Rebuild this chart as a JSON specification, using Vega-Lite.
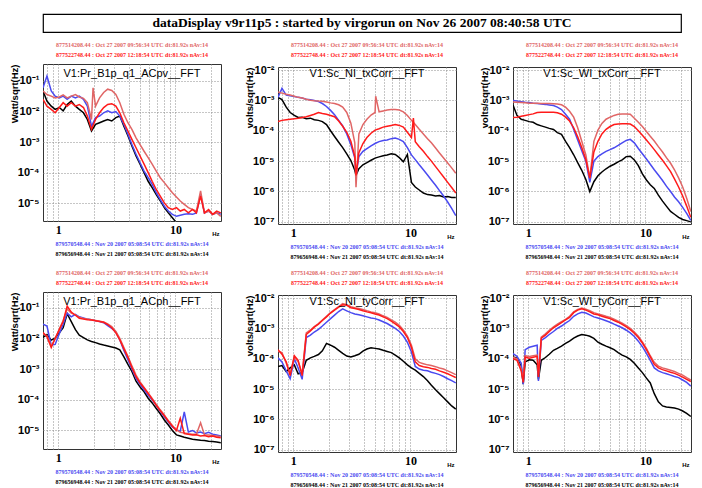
{
  "$schema": "https://vega.github.io/schema/vega-lite/v6.json",
  "background": "white",
  "padding": {"left": 8, "top": 13, "right": 4, "bottom": 0},
  "config": {
    "font": "Liberation Sans",
    "view": {"stroke": "#333333", "strokeWidth": 1},
    "axis": {"grid": true, "gridDash": [1, 2], "gridColor": "#8c8c8c", "ticks": false, "domain": false, "labelColor": "#000000", "titleColor": "#000000", "labelFontWeight": "bold", "labelOverlap": false, "labelFlush": false},
    "title": {"color": "#000000"}
  },
  "datasets": {
    "hdr": [
      {"i": 0, "s": "q", "t": "877514208.44 : Oct 27 2007 09:56:34 UTC dt:81.92s nAv:14"},
      {"i": 1, "s": "r", "t": "877522748.44 : Oct 27 2007 12:18:54 UTC dt:81.92s nAv:14"}
    ],
    "ftr": [
      {"i": 0, "s": "b", "t": "879570548.44 : Nov 20 2007 05:08:54 UTC dt:81.92s nAv:14"},
      {"i": 1, "s": "k", "t": "879656948.44 : Nov 21 2007 05:08:54 UTC dt:81.92s nAv:14"}
    ],
    "A": [
      {"s":"k","f":0.74,"v":4.7e-2},{"s":"k","f":0.8,"v":2.2e-2},{"s":"k","f":0.87,"v":1.5e-2},{"s":"k","f":0.94,"v":1.17e-2},{"s":"k","f":1.02,"v":1.35e-2},{"s":"k","f":1.1,"v":1.05e-2},{"s":"k","f":1.19,"v":1.7e-2},{"s":"k","f":1.29,"v":2.2e-2},{"s":"k","f":1.4,"v":1.5e-2},{"s":"k","f":1.51,"v":1.17e-2},{"s":"k","f":1.64,"v":9.1e-3},{"s":"k","f":1.77,"v":5.5e-3},{"s":"k","f":1.92,"v":2.3e-3},{"s":"k","f":2.08,"v":3.8e-3},{"s":"k","f":2.25,"v":4.3e-3},{"s":"k","f":2.44,"v":4.9e-3},{"s":"k","f":2.64,"v":5.5e-3},{"s":"k","f":2.86,"v":4.9e-3},{"s":"k","f":3.1,"v":6.3e-3},{"s":"k","f":3.35,"v":7.1e-3},{"s":"k","f":3.63,"v":3.3e-3},{"s":"k","f":3.93,"v":1.6e-3},{"s":"k","f":4.25,"v":7.4e-4},{"s":"k","f":4.61,"v":3.5e-4},{"s":"k","f":4.99,"v":1.9e-4},{"s":"k","f":5.4,"v":1e-4},{"s":"k","f":5.85,"v":5.2e-5},{"s":"k","f":6.33,"v":3.2e-5},{"s":"k","f":6.86,"v":1.9e-5},{"s":"k","f":7.42,"v":1.2e-5},{"s":"k","f":8.04,"v":7.1e-6},{"s":"k","f":8.7,"v":4.8e-6},{"s":"k","f":9.42,"v":3.3e-6},{"s":"k","f":10.2,"v":2.3e-6},{"s":"k","f":11,"v":1.8e-6},
      {"s":"b","f":0.74,"v":6.0e-2},{"s":"b","f":0.8,"v":1.45e-1},{"s":"b","f":0.87,"v":4.7e-2},{"s":"b","f":0.94,"v":3.2e-2},{"s":"b","f":1.02,"v":2.8e-2},{"s":"b","f":1.1,"v":3.2e-2},{"s":"b","f":1.19,"v":2.5e-2},{"s":"b","f":1.29,"v":3.2e-2},{"s":"b","f":1.4,"v":2.8e-2},{"s":"b","f":1.51,"v":3.2e-2},{"s":"b","f":1.64,"v":2.5e-2},{"s":"b","f":1.77,"v":1.5e-2},{"s":"b","f":1.92,"v":3.3e-3},{"s":"b","f":2.08,"v":6.3e-3},{"s":"b","f":2.25,"v":7.1e-3},{"s":"b","f":2.44,"v":9.1e-3},{"s":"b","f":2.64,"v":1.05e-2},{"s":"b","f":2.86,"v":9.1e-3},{"s":"b","f":3.1,"v":1.0e-2},{"s":"b","f":3.35,"v":7.1e-3},{"s":"b","f":3.63,"v":3.8e-3},{"s":"b","f":3.93,"v":1.8e-3},{"s":"b","f":4.25,"v":8.3e-4},{"s":"b","f":4.61,"v":4.0e-4},{"s":"b","f":4.99,"v":2.1e-4},{"s":"b","f":5.4,"v":1.12e-4},{"s":"b","f":5.85,"v":6.8e-5},{"s":"b","f":6.33,"v":4.1e-5},{"s":"b","f":6.86,"v":2.2e-5},{"s":"b","f":7.42,"v":1.3e-5},{"s":"b","f":8.04,"v":7.9e-6},{"s":"b","f":8.7,"v":5.5e-6},{"s":"b","f":9.42,"v":4.3e-6},{"s":"b","f":10.2,"v":3.7e-6},{"s":"b","f":11,"v":4.0e-6},{"s":"b","f":11.9,"v":4.3e-6},{"s":"b","f":12.9,"v":4.5e-6},{"s":"b","f":14,"v":4.3e-6},{"s":"b","f":15.1,"v":4.8e-6},{"s":"b","f":16.4,"v":1.9e-5},{"s":"b","f":17.7,"v":4.8e-6},{"s":"b","f":19.2,"v":5.5e-6},{"s":"b","f":20.8,"v":4.3e-6},{"s":"b","f":22.5,"v":4.8e-6},{"s":"b","f":24.4,"v":4.3e-6},
      {"s":"q","f":0.74,"v":4.7e-2},{"s":"q","f":0.8,"v":3.6e-2},{"s":"q","f":0.87,"v":3.2e-2},{"s":"q","f":0.94,"v":2.8e-2},{"s":"q","f":1.02,"v":3.0e-2},{"s":"q","f":1.1,"v":3.5e-2},{"s":"q","f":1.19,"v":2.8e-2},{"s":"q","f":1.29,"v":3.2e-2},{"s":"q","f":1.4,"v":3.6e-2},{"s":"q","f":1.51,"v":3.0e-2},{"s":"q","f":1.64,"v":2.7e-2},{"s":"q","f":1.77,"v":1.95e-2},{"s":"q","f":1.92,"v":5.5e-3},{"s":"q","f":1.98,"v":6.0e-2},{"s":"q","f":2.08,"v":1.5e-2},{"s":"q","f":2.25,"v":2.8e-2},{"s":"q","f":2.44,"v":4.2e-2},{"s":"q","f":2.64,"v":5.4e-2},{"s":"q","f":2.86,"v":4.9e-2},{"s":"q","f":3.1,"v":3.6e-2},{"s":"q","f":3.35,"v":1.95e-2},{"s":"q","f":3.63,"v":8.1e-3},{"s":"q","f":3.93,"v":4.3e-3},{"s":"q","f":4.25,"v":2.6e-3},{"s":"q","f":4.61,"v":1.38e-3},{"s":"q","f":4.99,"v":8.3e-4},{"s":"q","f":5.4,"v":5.0e-4},{"s":"q","f":5.85,"v":3.1e-4},{"s":"q","f":6.33,"v":1.9e-4},{"s":"q","f":6.86,"v":1.12e-4},{"s":"q","f":7.42,"v":6.8e-5},{"s":"q","f":8.04,"v":4.7e-5},{"s":"q","f":8.7,"v":3.2e-5},{"s":"q","f":9.42,"v":2.2e-5},{"s":"q","f":10.2,"v":1.6e-5},{"s":"q","f":11,"v":1.17e-5},{"s":"q","f":11.9,"v":9.1e-6},{"s":"q","f":12.9,"v":7.1e-6},{"s":"q","f":14,"v":6.2e-6},{"s":"q","f":15.1,"v":5.5e-6},{"s":"q","f":16.4,"v":2.5e-5},{"s":"q","f":17.7,"v":4.8e-6},{"s":"q","f":19.2,"v":5.5e-6},{"s":"q","f":20.8,"v":4.3e-6},{"s":"q","f":22.5,"v":4.8e-6},{"s":"q","f":24.4,"v":3.7e-6},
      {"s":"r","f":0.74,"v":2.5e-2},{"s":"r","f":0.8,"v":1.5e-2},{"s":"r","f":0.87,"v":1.17e-2},{"s":"r","f":0.94,"v":9.1e-3},{"s":"r","f":1.02,"v":1.35e-2},{"s":"r","f":1.1,"v":1.95e-2},{"s":"r","f":1.19,"v":1.5e-2},{"s":"r","f":1.29,"v":1.95e-2},{"s":"r","f":1.4,"v":1.5e-2},{"s":"r","f":1.51,"v":1.7e-2},{"s":"r","f":1.64,"v":1.35e-2},{"s":"r","f":1.77,"v":7.1e-3},{"s":"r","f":1.92,"v":2.6e-3},{"s":"r","f":2.08,"v":5.5e-3},{"s":"r","f":2.25,"v":9.1e-3},{"s":"r","f":2.44,"v":1.35e-2},{"s":"r","f":2.64,"v":1.7e-2},{"s":"r","f":2.86,"v":1.8e-2},{"s":"r","f":3.1,"v":1.5e-2},{"s":"r","f":3.35,"v":9.1e-3},{"s":"r","f":3.63,"v":4.3e-3},{"s":"r","f":3.93,"v":2.3e-3},{"s":"r","f":4.25,"v":1.23e-3},{"s":"r","f":4.61,"v":6.5e-4},{"s":"r","f":4.99,"v":3.5e-4},{"s":"r","f":5.4,"v":1.9e-4},{"s":"r","f":5.85,"v":1.0e-4},{"s":"r","f":6.33,"v":5.2e-5},{"s":"r","f":6.86,"v":2.8e-5},{"s":"r","f":7.42,"v":1.7e-5},{"s":"r","f":8.04,"v":1.02e-5},{"s":"r","f":8.7,"v":7.1e-6},{"s":"r","f":9.42,"v":6.2e-6},{"s":"r","f":10.2,"v":7.1e-6},{"s":"r","f":11,"v":5.5e-6},{"s":"r","f":11.9,"v":6.2e-6},{"s":"r","f":12.9,"v":4.8e-6},{"s":"r","f":14,"v":6.2e-6},{"s":"r","f":15.1,"v":4.8e-6},{"s":"r","f":16.4,"v":1.7e-5},{"s":"r","f":17.7,"v":4.8e-6},{"s":"r","f":19.2,"v":6.2e-6},{"s":"r","f":20.8,"v":4.3e-6},{"s":"r","f":22.5,"v":5.5e-6},{"s":"r","f":24.4,"v":4.8e-6}
    ],
    "B": [
      {"s":"k","f":0.74,"v":1.26e-3},{"s":"k","f":0.8,"v":1.07e-3},{"s":"k","f":0.87,"v":6.0e-4},{"s":"k","f":0.94,"v":4.0e-4},{"s":"k","f":1.02,"v":3.2e-4},{"s":"k","f":1.1,"v":2.75e-4},{"s":"k","f":1.19,"v":2.8e-4},{"s":"k","f":1.29,"v":2.5e-4},{"s":"k","f":1.4,"v":2.6e-4},{"s":"k","f":1.51,"v":2.3e-4},{"s":"k","f":1.64,"v":2.2e-4},{"s":"k","f":1.77,"v":2.0e-4},{"s":"k","f":1.92,"v":1.6e-4},{"s":"k","f":2.08,"v":1.0e-4},{"s":"k","f":2.25,"v":6.5e-5},{"s":"k","f":2.44,"v":4.2e-5},{"s":"k","f":2.64,"v":2.8e-5},{"s":"k","f":2.86,"v":1.74e-5},{"s":"k","f":3.1,"v":1.05e-5},{"s":"k","f":3.35,"v":5.0e-6},{"s":"k","f":3.43,"v":3.4e-6},{"s":"k","f":3.63,"v":5.6e-6},{"s":"k","f":3.93,"v":7.6e-6},{"s":"k","f":4.25,"v":8.9e-6},{"s":"k","f":4.61,"v":1.07e-5},{"s":"k","f":4.99,"v":1.26e-5},{"s":"k","f":5.4,"v":1.38e-5},{"s":"k","f":5.85,"v":1.5e-5},{"s":"k","f":6.33,"v":1.6e-5},{"s":"k","f":6.86,"v":1.74e-5},{"s":"k","f":7.42,"v":1.66e-5},{"s":"k","f":8.04,"v":1.3e-5},{"s":"k","f":8.7,"v":9.5e-6},{"s":"k","f":9.42,"v":1.66e-5},{"s":"k","f":10.2,"v":2.0e-6},{"s":"k","f":11,"v":1.4e-6},{"s":"k","f":11.9,"v":1.12e-6},{"s":"k","f":12.9,"v":8.9e-7},{"s":"k","f":14,"v":7.9e-7},{"s":"k","f":15.1,"v":7.6e-7},{"s":"k","f":16.4,"v":7.1e-7},{"s":"k","f":17.7,"v":7.4e-7},{"s":"k","f":19.2,"v":6.6e-7},{"s":"k","f":20.8,"v":6.8e-7},{"s":"k","f":22.5,"v":6.3e-7},{"s":"k","f":24.4,"v":6.3e-7},
      {"s":"b","f":0.74,"v":1.26e-3},{"s":"b","f":0.8,"v":2.5e-3},{"s":"b","f":0.87,"v":1.5e-3},{"s":"b","f":0.94,"v":1.41e-3},{"s":"b","f":1.02,"v":1.35e-3},{"s":"b","f":1.1,"v":1.26e-3},{"s":"b","f":1.19,"v":1.2e-3},{"s":"b","f":1.29,"v":1.1e-3},{"s":"b","f":1.4,"v":1.05e-3},{"s":"b","f":1.51,"v":1.0e-3},{"s":"b","f":1.64,"v":9.1e-4},{"s":"b","f":1.77,"v":7.9e-4},{"s":"b","f":1.92,"v":6.3e-4},{"s":"b","f":2.08,"v":4.7e-4},{"s":"b","f":2.25,"v":3.4e-4},{"s":"b","f":2.44,"v":2.2e-4},{"s":"b","f":2.64,"v":1.45e-4},{"s":"b","f":2.86,"v":7.9e-5},{"s":"b","f":3.1,"v":3.5e-5},{"s":"b","f":3.35,"v":1.26e-5},{"s":"b","f":3.43,"v":3.4e-6},{"s":"b","f":3.63,"v":1.41e-5},{"s":"b","f":3.93,"v":2.1e-5},{"s":"b","f":4.25,"v":2.6e-5},{"s":"b","f":4.61,"v":3.2e-5},{"s":"b","f":4.99,"v":3.8e-5},{"s":"b","f":5.4,"v":4.4e-5},{"s":"b","f":5.85,"v":4.8e-5},{"s":"b","f":6.33,"v":5.0e-5},{"s":"b","f":6.86,"v":5.5e-5},{"s":"b","f":7.42,"v":5.75e-5},{"s":"b","f":8.04,"v":5.2e-5},{"s":"b","f":8.7,"v":4.4e-5},{"s":"b","f":9.42,"v":2.8e-5},{"s":"b","f":10.2,"v":1.6e-5},{"s":"b","f":11,"v":1.12e-5},{"s":"b","f":11.9,"v":7.6e-6},{"s":"b","f":12.9,"v":5.2e-6},{"s":"b","f":14,"v":3.5e-6},{"s":"b","f":15.1,"v":2.4e-6},{"s":"b","f":16.4,"v":1.6e-6},{"s":"b","f":17.7,"v":1.07e-6},{"s":"b","f":19.2,"v":7.1e-7},{"s":"b","f":20.8,"v":4.5e-7},{"s":"b","f":22.5,"v":2.8e-7},{"s":"b","f":24.4,"v":1.6e-7},
      {"s":"q","f":0.74,"v":1.9e-3},{"s":"q","f":0.8,"v":1.74e-3},{"s":"q","f":0.87,"v":1.6e-3},{"s":"q","f":0.94,"v":1.5e-3},{"s":"q","f":1.02,"v":1.38e-3},{"s":"q","f":1.1,"v":1.26e-3},{"s":"q","f":1.19,"v":1.2e-3},{"s":"q","f":1.29,"v":1.1e-3},{"s":"q","f":1.4,"v":1.02e-3},{"s":"q","f":1.51,"v":9.8e-4},{"s":"q","f":1.64,"v":9.5e-4},{"s":"q","f":1.77,"v":9.3e-4},{"s":"q","f":1.92,"v":8.9e-4},{"s":"q","f":2.08,"v":8.3e-4},{"s":"q","f":2.25,"v":7.9e-4},{"s":"q","f":2.44,"v":7.2e-4},{"s":"q","f":2.64,"v":6.0e-4},{"s":"q","f":2.86,"v":4.0e-4},{"s":"q","f":3.1,"v":1.78e-4},{"s":"q","f":3.35,"v":4.0e-5},{"s":"q","f":3.43,"v":1.38e-6},{"s":"q","f":3.63,"v":7.9e-5},{"s":"q","f":3.93,"v":1.6e-4},{"s":"q","f":4.25,"v":2.4e-4},{"s":"q","f":4.61,"v":3.3e-4},{"s":"q","f":4.99,"v":4.0e-4},{"s":"q","f":5.05,"v":1.38e-3},{"s":"q","f":5.4,"v":4.2e-4},{"s":"q","f":5.85,"v":4.5e-4},{"s":"q","f":6.33,"v":4.8e-4},{"s":"q","f":6.86,"v":5.0e-4},{"s":"q","f":7.42,"v":5.0e-4},{"s":"q","f":8.04,"v":4.8e-4},{"s":"q","f":8.7,"v":4.2e-4},{"s":"q","f":9.42,"v":3.2e-4},{"s":"q","f":10.2,"v":2.2e-4},{"s":"q","f":11,"v":1.6e-4},{"s":"q","f":11.9,"v":1.12e-4},{"s":"q","f":12.9,"v":7.9e-5},{"s":"q","f":14,"v":5.5e-5},{"s":"q","f":15.1,"v":4.0e-5},{"s":"q","f":16.4,"v":2.7e-5},{"s":"q","f":17.7,"v":1.86e-5},{"s":"q","f":19.2,"v":1.26e-5},{"s":"q","f":20.8,"v":8.7e-6},{"s":"q","f":22.5,"v":6.0e-6},{"s":"q","f":24.4,"v":4.0e-6},
      {"s":"r","f":0.74,"v":2.0e-4},{"s":"r","f":0.8,"v":2.2e-4},{"s":"r","f":0.87,"v":2.3e-4},{"s":"r","f":0.94,"v":2.4e-4},{"s":"r","f":1.02,"v":2.5e-4},{"s":"r","f":1.1,"v":2.6e-4},{"s":"r","f":1.19,"v":2.75e-4},{"s":"r","f":1.29,"v":2.9e-4},{"s":"r","f":1.4,"v":3.2e-4},{"s":"r","f":1.51,"v":3.5e-4},{"s":"r","f":1.64,"v":4.0e-4},{"s":"r","f":1.77,"v":3.7e-4},{"s":"r","f":1.92,"v":3.5e-4},{"s":"r","f":2.08,"v":3.2e-4},{"s":"r","f":2.25,"v":2.9e-4},{"s":"r","f":2.44,"v":2.1e-4},{"s":"r","f":2.64,"v":1.41e-4},{"s":"r","f":2.86,"v":8.9e-5},{"s":"r","f":3.1,"v":4.5e-5},{"s":"r","f":3.35,"v":1.41e-5},{"s":"r","f":3.43,"v":3.4e-6},{"s":"r","f":3.63,"v":1.9e-5},{"s":"r","f":3.93,"v":3.8e-5},{"s":"r","f":4.25,"v":6.0e-5},{"s":"r","f":4.61,"v":8.3e-5},{"s":"r","f":4.99,"v":1.05e-4},{"s":"r","f":5.4,"v":1.17e-4},{"s":"r","f":5.85,"v":1.32e-4},{"s":"r","f":6.33,"v":1.41e-4},{"s":"r","f":6.86,"v":1.5e-4},{"s":"r","f":7.42,"v":1.6e-4},{"s":"r","f":8.04,"v":1.5e-4},{"s":"r","f":8.7,"v":1.32e-4},{"s":"r","f":9.42,"v":8.9e-5},{"s":"r","f":10.2,"v":6.0e-5},{"s":"r","f":10.6,"v":2.6e-4},{"s":"r","f":11,"v":4.4e-5},{"s":"r","f":11.9,"v":3.0e-5},{"s":"r","f":12.9,"v":2.1e-5},{"s":"r","f":14,"v":1.41e-5},{"s":"r","f":15.1,"v":1.0e-5},{"s":"r","f":16.4,"v":6.6e-6},{"s":"r","f":17.7,"v":4.5e-6},{"s":"r","f":19.2,"v":3.0e-6},{"s":"r","f":20.8,"v":2.0e-6},{"s":"r","f":22.5,"v":1.35e-6},{"s":"r","f":24.4,"v":8.9e-7}
    ],
    "C": [
      {"s":"k","f":0.74,"v":7.1e-4},{"s":"k","f":0.8,"v":3.2e-4},{"s":"k","f":0.87,"v":2.4e-4},{"s":"k","f":0.94,"v":2.2e-4},{"s":"k","f":1.02,"v":2.0e-4},{"s":"k","f":1.1,"v":1.9e-4},{"s":"k","f":1.19,"v":1.6e-4},{"s":"k","f":1.29,"v":1.45e-4},{"s":"k","f":1.4,"v":1.32e-4},{"s":"k","f":1.51,"v":1.2e-4},{"s":"k","f":1.64,"v":1.1e-4},{"s":"k","f":1.77,"v":8.7e-5},{"s":"k","f":1.92,"v":7.6e-5},{"s":"k","f":2.08,"v":4.5e-5},{"s":"k","f":2.25,"v":2.8e-5},{"s":"k","f":2.44,"v":1.62e-5},{"s":"k","f":2.64,"v":8.9e-6},{"s":"k","f":2.86,"v":5.0e-6},{"s":"k","f":3.1,"v":2.5e-6},{"s":"k","f":3.35,"v":1.0e-6},{"s":"k","f":3.63,"v":2.1e-6},{"s":"k","f":3.93,"v":3.3e-6},{"s":"k","f":4.25,"v":4.4e-6},{"s":"k","f":4.61,"v":5.6e-6},{"s":"k","f":4.99,"v":6.8e-6},{"s":"k","f":5.4,"v":7.9e-6},{"s":"k","f":5.85,"v":9.5e-6},{"s":"k","f":6.33,"v":1.1e-5},{"s":"k","f":6.86,"v":1.41e-5},{"s":"k","f":7.42,"v":1.45e-5},{"s":"k","f":8.04,"v":1.1e-5},{"s":"k","f":8.7,"v":7.1e-6},{"s":"k","f":9.42,"v":3.8e-6},{"s":"k","f":10.2,"v":2.4e-6},{"s":"k","f":11,"v":1.66e-6},{"s":"k","f":11.9,"v":1.26e-6},{"s":"k","f":12.9,"v":7.6e-7},{"s":"k","f":14,"v":4.8e-7},{"s":"k","f":15.1,"v":3.3e-7},{"s":"k","f":16.4,"v":2.2e-7},{"s":"k","f":17.7,"v":1.78e-7},{"s":"k","f":19.2,"v":1.41e-7},{"s":"k","f":20.8,"v":1.2e-7},{"s":"k","f":22.5,"v":1.1e-7},{"s":"k","f":24.4,"v":1.0e-7},
      {"s":"b","f":0.74,"v":1.0e-3},{"s":"b","f":0.8,"v":9.5e-4},{"s":"b","f":0.87,"v":9.1e-4},{"s":"b","f":0.94,"v":8.7e-4},{"s":"b","f":1.02,"v":8.5e-4},{"s":"b","f":1.1,"v":8.1e-4},{"s":"b","f":1.19,"v":7.9e-4},{"s":"b","f":1.29,"v":7.6e-4},{"s":"b","f":1.4,"v":7.4e-4},{"s":"b","f":1.51,"v":7.1e-4},{"s":"b","f":1.64,"v":6.8e-4},{"s":"b","f":1.77,"v":6.0e-4},{"s":"b","f":1.92,"v":5.0e-4},{"s":"b","f":2.08,"v":3.5e-4},{"s":"b","f":2.25,"v":2.4e-4},{"s":"b","f":2.44,"v":1.12e-4},{"s":"b","f":2.64,"v":5.0e-5},{"s":"b","f":2.86,"v":2.2e-5},{"s":"b","f":3.1,"v":1.0e-5},{"s":"b","f":3.35,"v":2.0e-6},{"s":"b","f":3.63,"v":1.0e-5},{"s":"b","f":3.93,"v":1.41e-5},{"s":"b","f":4.25,"v":1.74e-5},{"s":"b","f":4.61,"v":2.1e-5},{"s":"b","f":4.99,"v":2.4e-5},{"s":"b","f":5.4,"v":2.75e-5},{"s":"b","f":5.85,"v":3.3e-5},{"s":"b","f":6.33,"v":4.0e-5},{"s":"b","f":6.86,"v":4.8e-5},{"s":"b","f":7.42,"v":5.2e-5},{"s":"b","f":8.04,"v":4.0e-5},{"s":"b","f":8.7,"v":2.6e-5},{"s":"b","f":9.42,"v":1.74e-5},{"s":"b","f":10.2,"v":1.17e-5},{"s":"b","f":11,"v":7.9e-6},{"s":"b","f":11.9,"v":5.2e-6},{"s":"b","f":12.9,"v":3.5e-6},{"s":"b","f":14,"v":2.3e-6},{"s":"b","f":15.1,"v":1.5e-6},{"s":"b","f":16.4,"v":1.0e-6},{"s":"b","f":17.7,"v":6.6e-7},{"s":"b","f":19.2,"v":4.6e-7},{"s":"b","f":20.8,"v":3.0e-7},{"s":"b","f":22.5,"v":1.9e-7},{"s":"b","f":24.4,"v":1.12e-7},
      {"s":"q","f":0.74,"v":8.9e-4},{"s":"q","f":0.8,"v":8.7e-4},{"s":"q","f":0.87,"v":8.5e-4},{"s":"q","f":0.94,"v":8.3e-4},{"s":"q","f":1.02,"v":8.1e-4},{"s":"q","f":1.1,"v":8.1e-4},{"s":"q","f":1.19,"v":8.1e-4},{"s":"q","f":1.29,"v":7.9e-4},{"s":"q","f":1.4,"v":7.9e-4},{"s":"q","f":1.51,"v":7.9e-4},{"s":"q","f":1.64,"v":7.8e-4},{"s":"q","f":1.77,"v":7.6e-4},{"s":"q","f":1.92,"v":7.2e-4},{"s":"q","f":2.08,"v":6.0e-4},{"s":"q","f":2.25,"v":4.4e-4},{"s":"q","f":2.44,"v":2.8e-4},{"s":"q","f":2.64,"v":1.26e-4},{"s":"q","f":2.86,"v":4.5e-5},{"s":"q","f":3.1,"v":1.6e-5},{"s":"q","f":3.35,"v":2.75e-6},{"s":"q","f":3.63,"v":4.5e-5},{"s":"q","f":3.93,"v":1.05e-4},{"s":"q","f":4.25,"v":1.74e-4},{"s":"q","f":4.61,"v":2.4e-4},{"s":"q","f":4.99,"v":2.8e-4},{"s":"q","f":5.4,"v":3.2e-4},{"s":"q","f":5.85,"v":3.5e-4},{"s":"q","f":6.33,"v":3.6e-4},{"s":"q","f":6.86,"v":3.6e-4},{"s":"q","f":7.42,"v":3.5e-4},{"s":"q","f":8.04,"v":2.6e-4},{"s":"q","f":8.7,"v":1.9e-4},{"s":"q","f":9.42,"v":1.38e-4},{"s":"q","f":10.2,"v":9.5e-5},{"s":"q","f":11,"v":6.6e-5},{"s":"q","f":11.9,"v":4.6e-5},{"s":"q","f":12.9,"v":3.0e-5},{"s":"q","f":14,"v":2.0e-5},{"s":"q","f":15.1,"v":1.3e-5},{"s":"q","f":16.4,"v":8.5e-6},{"s":"q","f":17.7,"v":5.2e-6},{"s":"q","f":19.2,"v":2.8e-6},{"s":"q","f":20.8,"v":1.41e-6},{"s":"q","f":22.5,"v":6.0e-7},{"s":"q","f":24.4,"v":2.2e-7},
      {"s":"r","f":0.74,"v":2.75e-4},{"s":"r","f":0.8,"v":2.8e-4},{"s":"r","f":0.87,"v":3.0e-4},{"s":"r","f":0.94,"v":3.2e-4},{"s":"r","f":1.02,"v":3.4e-4},{"s":"r","f":1.1,"v":3.6e-4},{"s":"r","f":1.19,"v":4.0e-4},{"s":"r","f":1.29,"v":4.1e-4},{"s":"r","f":1.4,"v":4.1e-4},{"s":"r","f":1.51,"v":4.1e-4},{"s":"r","f":1.64,"v":4.1e-4},{"s":"r","f":1.77,"v":3.9e-4},{"s":"r","f":1.92,"v":3.5e-4},{"s":"r","f":2.08,"v":2.8e-4},{"s":"r","f":2.25,"v":2.1e-4},{"s":"r","f":2.44,"v":1.26e-4},{"s":"r","f":2.64,"v":6.3e-5},{"s":"r","f":2.86,"v":2.8e-5},{"s":"r","f":3.1,"v":1.12e-5},{"s":"r","f":3.35,"v":2.75e-6},{"s":"r","f":3.63,"v":2.0e-5},{"s":"r","f":3.93,"v":4.5e-5},{"s":"r","f":4.25,"v":7.9e-5},{"s":"r","f":4.61,"v":1.12e-4},{"s":"r","f":4.99,"v":1.38e-4},{"s":"r","f":5.4,"v":1.6e-4},{"s":"r","f":5.85,"v":1.66e-4},{"s":"r","f":6.33,"v":1.7e-4},{"s":"r","f":6.86,"v":1.7e-4},{"s":"r","f":7.42,"v":1.66e-4},{"s":"r","f":8.04,"v":1.38e-4},{"s":"r","f":8.7,"v":1.0e-4},{"s":"r","f":9.42,"v":7.1e-5},{"s":"r","f":10.2,"v":5.0e-5},{"s":"r","f":11,"v":3.5e-5},{"s":"r","f":11.9,"v":2.4e-5},{"s":"r","f":12.9,"v":1.6e-5},{"s":"r","f":14,"v":1.07e-5},{"s":"r","f":15.1,"v":7.1e-6},{"s":"r","f":16.4,"v":4.5e-6},{"s":"r","f":17.7,"v":2.6e-6},{"s":"r","f":19.2,"v":1.41e-6},{"s":"r","f":20.8,"v":7.1e-7},{"s":"r","f":22.5,"v":3.3e-7},{"s":"r","f":24.4,"v":1.41e-7}
    ],
    "D": [
      {"s":"k","f":0.74,"v":1.07e-2},{"s":"k","f":0.8,"v":1.32e-2},{"s":"k","f":0.87,"v":8.7e-3},{"s":"k","f":0.94,"v":1.0e-2},{"s":"k","f":1.02,"v":1.5e-2},{"s":"k","f":1.1,"v":2.2e-2},{"s":"k","f":1.19,"v":6.3e-2},{"s":"k","f":1.29,"v":3.5e-2},{"s":"k","f":1.4,"v":1.9e-2},{"s":"k","f":1.51,"v":1.26e-2},{"s":"k","f":1.64,"v":1.05e-2},{"s":"k","f":1.77,"v":8.9e-3},{"s":"k","f":1.92,"v":7.9e-3},{"s":"k","f":2.08,"v":7.2e-3},{"s":"k","f":2.25,"v":6.5e-3},{"s":"k","f":2.44,"v":6.0e-3},{"s":"k","f":2.64,"v":5.6e-3},{"s":"k","f":2.86,"v":5.2e-3},{"s":"k","f":3.1,"v":4.8e-3},{"s":"k","f":3.35,"v":4.2e-3},{"s":"k","f":3.63,"v":2.5e-3},{"s":"k","f":3.93,"v":1.41e-3},{"s":"k","f":4.25,"v":8.3e-4},{"s":"k","f":4.61,"v":4.0e-4},{"s":"k","f":4.99,"v":2.6e-4},{"s":"k","f":5.4,"v":1.82e-4},{"s":"k","f":5.85,"v":1.12e-4},{"s":"k","f":6.33,"v":7.9e-5},{"s":"k","f":6.86,"v":5.2e-5},{"s":"k","f":7.42,"v":3.5e-5},{"s":"k","f":8.04,"v":2.2e-5},{"s":"k","f":8.7,"v":1.5e-5},{"s":"k","f":9.42,"v":1.0e-5},{"s":"k","f":10.2,"v":7.2e-6},{"s":"k","f":11,"v":6.6e-6},{"s":"k","f":11.9,"v":6.0e-6},{"s":"k","f":12.9,"v":5.6e-6},{"s":"k","f":14,"v":5.2e-6},{"s":"k","f":15.1,"v":5.0e-6},{"s":"k","f":16.4,"v":4.8e-6},{"s":"k","f":17.7,"v":4.7e-6},{"s":"k","f":19.2,"v":4.5e-6},{"s":"k","f":20.8,"v":4.4e-6},{"s":"k","f":22.5,"v":4.2e-6},{"s":"k","f":24.4,"v":4.0e-6},
      {"s":"b","f":0.74,"v":2.9e-2},{"s":"b","f":0.8,"v":2.5e-2},{"s":"b","f":0.87,"v":6.0e-3},{"s":"b","f":0.94,"v":6.3e-3},{"s":"b","f":1.02,"v":1.41e-2},{"s":"b","f":1.1,"v":2.8e-2},{"s":"b","f":1.19,"v":6.6e-2},{"s":"b","f":1.29,"v":5.0e-2},{"s":"b","f":1.4,"v":6.0e-2},{"s":"b","f":1.51,"v":5.0e-2},{"s":"b","f":1.64,"v":4.6e-2},{"s":"b","f":1.77,"v":4.2e-2},{"s":"b","f":1.92,"v":4.0e-2},{"s":"b","f":2.08,"v":3.7e-2},{"s":"b","f":2.25,"v":3.5e-2},{"s":"b","f":2.44,"v":3.2e-2},{"s":"b","f":2.64,"v":2.6e-2},{"s":"b","f":2.86,"v":2.1e-2},{"s":"b","f":3.1,"v":1.6e-2},{"s":"b","f":3.35,"v":8.9e-3},{"s":"b","f":3.63,"v":4.0e-3},{"s":"b","f":3.93,"v":2.0e-3},{"s":"b","f":4.25,"v":1.0e-3},{"s":"b","f":4.61,"v":5.0e-4},{"s":"b","f":4.99,"v":3.2e-4},{"s":"b","f":5.4,"v":2.1e-4},{"s":"b","f":5.85,"v":1.41e-4},{"s":"b","f":6.33,"v":1.0e-4},{"s":"b","f":6.86,"v":6.6e-5},{"s":"b","f":7.42,"v":4.2e-5},{"s":"b","f":8.04,"v":2.8e-5},{"s":"b","f":8.7,"v":1.9e-5},{"s":"b","f":9.42,"v":1.3e-5},{"s":"b","f":10.2,"v":1.05e-5},{"s":"b","f":11,"v":9.5e-6},{"s":"b","f":11.9,"v":4.0e-5},{"s":"b","f":12.9,"v":8.9e-6},{"s":"b","f":14,"v":1.0e-5},{"s":"b","f":15.1,"v":8.3e-6},{"s":"b","f":16.4,"v":8.9e-6},{"s":"b","f":17.7,"v":7.9e-6},{"s":"b","f":19.2,"v":8.7e-6},{"s":"b","f":20.8,"v":7.6e-6},{"s":"b","f":22.5,"v":7.1e-6},{"s":"b","f":24.4,"v":6.6e-6},
      {"s":"q","f":0.74,"v":1.41e-2},{"s":"q","f":0.8,"v":1.2e-2},{"s":"q","f":0.87,"v":5.6e-3},{"s":"q","f":0.94,"v":9.5e-3},{"s":"q","f":1.02,"v":2.0e-2},{"s":"q","f":1.1,"v":3.8e-2},{"s":"q","f":1.19,"v":8.9e-2},{"s":"q","f":1.29,"v":6.6e-2},{"s":"q","f":1.4,"v":5.75e-2},{"s":"q","f":1.51,"v":4.8e-2},{"s":"q","f":1.64,"v":4.4e-2},{"s":"q","f":1.77,"v":4.2e-2},{"s":"q","f":1.92,"v":4.0e-2},{"s":"q","f":2.08,"v":3.8e-2},{"s":"q","f":2.25,"v":3.6e-2},{"s":"q","f":2.44,"v":3.4e-2},{"s":"q","f":2.64,"v":2.95e-2},{"s":"q","f":2.86,"v":2.4e-2},{"s":"q","f":3.1,"v":1.66e-2},{"s":"q","f":3.35,"v":1.0e-2},{"s":"q","f":3.63,"v":5.0e-3},{"s":"q","f":3.93,"v":2.6e-3},{"s":"q","f":4.25,"v":1.26e-3},{"s":"q","f":4.61,"v":6.3e-4},{"s":"q","f":4.99,"v":3.8e-4},{"s":"q","f":5.4,"v":2.5e-4},{"s":"q","f":5.85,"v":1.66e-4},{"s":"q","f":6.33,"v":1.1e-4},{"s":"q","f":6.86,"v":7.1e-5},{"s":"q","f":7.42,"v":4.7e-5},{"s":"q","f":8.04,"v":3.2e-5},{"s":"q","f":8.7,"v":2.1e-5},{"s":"q","f":9.42,"v":1.45e-5},{"s":"q","f":10.2,"v":1.05e-5},{"s":"q","f":11,"v":8.7e-6},{"s":"q","f":11.9,"v":8.3e-6},{"s":"q","f":12.9,"v":7.9e-6},{"s":"q","f":14,"v":7.6e-6},{"s":"q","f":15.1,"v":7.6e-6},{"s":"q","f":16.4,"v":1.78e-5},{"s":"q","f":17.7,"v":7.2e-6},{"s":"q","f":19.2,"v":7.1e-6},{"s":"q","f":20.8,"v":6.9e-6},{"s":"q","f":22.5,"v":6.6e-6},{"s":"q","f":24.4,"v":6.3e-6},
      {"s":"r","f":0.74,"v":1.55e-2},{"s":"r","f":0.8,"v":1.12e-2},{"s":"r","f":0.87,"v":5.0e-3},{"s":"r","f":0.94,"v":1.0e-2},{"s":"r","f":1.02,"v":1.9e-2},{"s":"r","f":1.1,"v":3.5e-2},{"s":"r","f":1.19,"v":1.12e-1},{"s":"r","f":1.29,"v":7.1e-2},{"s":"r","f":1.4,"v":5.6e-2},{"s":"r","f":1.51,"v":4.5e-2},{"s":"r","f":1.64,"v":4.2e-2},{"s":"r","f":1.77,"v":4.0e-2},{"s":"r","f":1.92,"v":3.9e-2},{"s":"r","f":2.08,"v":3.7e-2},{"s":"r","f":2.25,"v":3.5e-2},{"s":"r","f":2.44,"v":3.3e-2},{"s":"r","f":2.64,"v":2.8e-2},{"s":"r","f":2.86,"v":2.2e-2},{"s":"r","f":3.1,"v":1.5e-2},{"s":"r","f":3.35,"v":8.9e-3},{"s":"r","f":3.63,"v":4.5e-3},{"s":"r","f":3.93,"v":2.4e-3},{"s":"r","f":4.25,"v":1.12e-3},{"s":"r","f":4.61,"v":5.6e-4},{"s":"r","f":4.99,"v":3.5e-4},{"s":"r","f":5.4,"v":2.4e-4},{"s":"r","f":5.85,"v":1.6e-4},{"s":"r","f":6.33,"v":1.05e-4},{"s":"r","f":6.86,"v":6.6e-5},{"s":"r","f":7.42,"v":4.4e-5},{"s":"r","f":8.04,"v":3.0e-5},{"s":"r","f":8.7,"v":2.0e-5},{"s":"r","f":9.42,"v":1.38e-5},{"s":"r","f":10.2,"v":1.0e-5},{"s":"r","f":11,"v":2.5e-5},{"s":"r","f":11.9,"v":7.9e-6},{"s":"r","f":12.9,"v":7.6e-6},{"s":"r","f":14,"v":7.1e-6},{"s":"r","f":15.1,"v":7.2e-6},{"s":"r","f":16.4,"v":6.6e-6},{"s":"r","f":17.7,"v":6.9e-6},{"s":"r","f":19.2,"v":6.3e-6},{"s":"r","f":20.8,"v":6.6e-6},{"s":"r","f":22.5,"v":6.0e-6},{"s":"r","f":24.4,"v":5.75e-6}
    ],
    "E": [
      {"s":"k","f":0.74,"v":5.6e-5},{"s":"k","f":0.8,"v":6.0e-5},{"s":"k","f":0.87,"v":3.8e-5},{"s":"k","f":0.94,"v":5.0e-5},{"s":"k","f":1.02,"v":6.3e-5},{"s":"k","f":1.1,"v":3.2e-5},{"s":"k","f":1.19,"v":3.5e-5},{"s":"k","f":1.29,"v":8.9e-5},{"s":"k","f":1.4,"v":1.07e-4},{"s":"k","f":1.51,"v":1.2e-4},{"s":"k","f":1.64,"v":1.38e-4},{"s":"k","f":1.77,"v":1.82e-4},{"s":"k","f":1.92,"v":3.2e-4},{"s":"k","f":2.08,"v":2.8e-4},{"s":"k","f":2.25,"v":2.4e-4},{"s":"k","f":2.44,"v":1.9e-4},{"s":"k","f":2.64,"v":1.5e-4},{"s":"k","f":2.86,"v":1.23e-4},{"s":"k","f":3.1,"v":1.15e-4},{"s":"k","f":3.35,"v":1.26e-4},{"s":"k","f":3.63,"v":1.41e-4},{"s":"k","f":3.93,"v":1.78e-4},{"s":"k","f":4.25,"v":2.1e-4},{"s":"k","f":4.61,"v":2.3e-4},{"s":"k","f":4.99,"v":2.2e-4},{"s":"k","f":5.4,"v":2.1e-4},{"s":"k","f":5.85,"v":1.9e-4},{"s":"k","f":6.33,"v":1.74e-4},{"s":"k","f":6.86,"v":1.6e-4},{"s":"k","f":7.42,"v":1.32e-4},{"s":"k","f":8.04,"v":1.07e-4},{"s":"k","f":8.7,"v":8.3e-5},{"s":"k","f":9.42,"v":6.3e-5},{"s":"k","f":10.2,"v":5.0e-5},{"s":"k","f":11,"v":4.2e-5},{"s":"k","f":11.9,"v":3.3e-5},{"s":"k","f":12.9,"v":2.6e-5},{"s":"k","f":14,"v":1.9e-5},{"s":"k","f":15.1,"v":1.35e-5},{"s":"k","f":16.4,"v":9.5e-6},{"s":"k","f":17.7,"v":7.1e-6},{"s":"k","f":19.2,"v":5.2e-6},{"s":"k","f":20.8,"v":3.8e-6},{"s":"k","f":22.5,"v":2.8e-6},{"s":"k","f":24.4,"v":2.2e-6},
      {"s":"b","f":0.74,"v":1.07e-4},{"s":"b","f":0.8,"v":7.9e-5},{"s":"b","f":0.87,"v":4.0e-5},{"s":"b","f":0.94,"v":2.2e-5},{"s":"b","f":1.02,"v":1.0e-4},{"s":"b","f":1.1,"v":5.0e-5},{"s":"b","f":1.19,"v":2.1e-5},{"s":"b","f":1.29,"v":5.0e-4},{"s":"b","f":1.4,"v":6.0e-4},{"s":"b","f":1.51,"v":7.6e-4},{"s":"b","f":1.64,"v":9.3e-4},{"s":"b","f":1.77,"v":1.2e-3},{"s":"b","f":1.92,"v":1.6e-3},{"s":"b","f":2.08,"v":2.1e-3},{"s":"b","f":2.25,"v":2.75e-3},{"s":"b","f":2.44,"v":3.6e-3},{"s":"b","f":2.64,"v":4.4e-3},{"s":"b","f":2.86,"v":3.8e-3},{"s":"b","f":3.1,"v":3.3e-3},{"s":"b","f":3.35,"v":3.0e-3},{"s":"b","f":3.63,"v":2.8e-3},{"s":"b","f":3.93,"v":2.6e-3},{"s":"b","f":4.25,"v":2.4e-3},{"s":"b","f":4.61,"v":2.2e-3},{"s":"b","f":4.99,"v":2.1e-3},{"s":"b","f":5.4,"v":1.9e-3},{"s":"b","f":5.85,"v":1.66e-3},{"s":"b","f":6.33,"v":1.45e-3},{"s":"b","f":6.86,"v":1.2e-3},{"s":"b","f":7.42,"v":1.0e-3},{"s":"b","f":8.04,"v":7.9e-4},{"s":"b","f":8.7,"v":5.6e-4},{"s":"b","f":9.42,"v":3.5e-4},{"s":"b","f":10.2,"v":1.66e-4},{"s":"b","f":11,"v":5.6e-5},{"s":"b","f":11.9,"v":4.6e-5},{"s":"b","f":12.9,"v":4.2e-5},{"s":"b","f":14,"v":4.0e-5},{"s":"b","f":15.1,"v":3.6e-5},{"s":"b","f":16.4,"v":3.3e-5},{"s":"b","f":17.7,"v":3.0e-5},{"s":"b","f":19.2,"v":2.6e-5},{"s":"b","f":20.8,"v":2.2e-5},{"s":"b","f":22.5,"v":1.9e-5},{"s":"b","f":24.4,"v":1.6e-5},
      {"s":"q","f":0.74,"v":1.78e-4},{"s":"q","f":0.8,"v":1.6e-4},{"s":"q","f":0.87,"v":7.1e-5},{"s":"q","f":0.94,"v":3.2e-5},{"s":"q","f":1.02,"v":1.12e-4},{"s":"q","f":1.1,"v":7.9e-5},{"s":"q","f":1.19,"v":3.2e-5},{"s":"q","f":1.29,"v":7.1e-4},{"s":"q","f":1.4,"v":8.9e-4},{"s":"q","f":1.51,"v":1.15e-3},{"s":"q","f":1.64,"v":1.45e-3},{"s":"q","f":1.77,"v":1.9e-3},{"s":"q","f":1.92,"v":2.5e-3},{"s":"q","f":2.08,"v":3.3e-3},{"s":"q","f":2.25,"v":4.2e-3},{"s":"q","f":2.44,"v":5.2e-3},{"s":"q","f":2.64,"v":6.6e-3},{"s":"q","f":2.86,"v":6.0e-3},{"s":"q","f":3.1,"v":5.2e-3},{"s":"q","f":3.35,"v":4.8e-3},{"s":"q","f":3.63,"v":4.5e-3},{"s":"q","f":3.93,"v":4.2e-3},{"s":"q","f":4.25,"v":3.8e-3},{"s":"q","f":4.61,"v":3.5e-3},{"s":"q","f":4.99,"v":3.3e-3},{"s":"q","f":5.4,"v":3.0e-3},{"s":"q","f":5.85,"v":2.6e-3},{"s":"q","f":6.33,"v":2.3e-3},{"s":"q","f":6.86,"v":1.9e-3},{"s":"q","f":7.42,"v":1.6e-3},{"s":"q","f":8.04,"v":1.26e-3},{"s":"q","f":8.7,"v":8.9e-4},{"s":"q","f":9.42,"v":5.6e-4},{"s":"q","f":10.2,"v":2.8e-4},{"s":"q","f":11,"v":1.0e-4},{"s":"q","f":11.9,"v":7.6e-5},{"s":"q","f":12.9,"v":6.9e-5},{"s":"q","f":14,"v":6.3e-5},{"s":"q","f":15.1,"v":6.0e-5},{"s":"q","f":16.4,"v":5.5e-5},{"s":"q","f":17.7,"v":5.0e-5},{"s":"q","f":19.2,"v":4.6e-5},{"s":"q","f":20.8,"v":4.0e-5},{"s":"q","f":22.5,"v":3.5e-5},{"s":"q","f":24.4,"v":3.0e-5},
      {"s":"r","f":0.74,"v":2.0e-4},{"s":"r","f":0.8,"v":1.41e-4},{"s":"r","f":0.87,"v":7.9e-5},{"s":"r","f":0.94,"v":2.8e-5},{"s":"r","f":1.02,"v":1.26e-4},{"s":"r","f":1.1,"v":8.9e-5},{"s":"r","f":1.19,"v":2.8e-5},{"s":"r","f":1.29,"v":6.3e-4},{"s":"r","f":1.4,"v":8.3e-4},{"s":"r","f":1.51,"v":1.1e-3},{"s":"r","f":1.64,"v":1.38e-3},{"s":"r","f":1.77,"v":1.82e-3},{"s":"r","f":1.92,"v":2.4e-3},{"s":"r","f":2.08,"v":3.2e-3},{"s":"r","f":2.25,"v":4.0e-3},{"s":"r","f":2.44,"v":5.0e-3},{"s":"r","f":2.64,"v":6.0e-3},{"s":"r","f":2.86,"v":5.75e-3},{"s":"r","f":3.1,"v":4.8e-3},{"s":"r","f":3.35,"v":4.5e-3},{"s":"r","f":3.63,"v":4.2e-3},{"s":"r","f":3.93,"v":3.8e-3},{"s":"r","f":4.25,"v":3.5e-3},{"s":"r","f":4.61,"v":3.3e-3},{"s":"r","f":4.99,"v":3.0e-3},{"s":"r","f":5.4,"v":2.75e-3},{"s":"r","f":5.85,"v":2.4e-3},{"s":"r","f":6.33,"v":2.1e-3},{"s":"r","f":6.86,"v":1.74e-3},{"s":"r","f":7.42,"v":1.41e-3},{"s":"r","f":8.04,"v":1.12e-3},{"s":"r","f":8.7,"v":7.9e-4},{"s":"r","f":9.42,"v":5.0e-4},{"s":"r","f":10.2,"v":2.4e-4},{"s":"r","f":11,"v":7.9e-5},{"s":"r","f":11.9,"v":6.0e-5},{"s":"r","f":12.9,"v":5.5e-5},{"s":"r","f":14,"v":5.2e-5},{"s":"r","f":15.1,"v":4.8e-5},{"s":"r","f":16.4,"v":4.5e-5},{"s":"r","f":17.7,"v":4.0e-5},{"s":"r","f":19.2,"v":3.6e-5},{"s":"r","f":20.8,"v":3.2e-5},{"s":"r","f":22.5,"v":2.8e-5},{"s":"r","f":24.4,"v":2.4e-5}
    ],
    "F": [
      {"s":"k","f":0.74,"v":1.15e-4},{"s":"k","f":0.8,"v":1.05e-4},{"s":"k","f":0.87,"v":5.6e-5},{"s":"k","f":0.905,"v":1.45e-5},{"s":"k","f":0.94,"v":7.9e-5},{"s":"k","f":1.02,"v":9.3e-5},{"s":"k","f":1.1,"v":8.9e-5},{"s":"k","f":1.19,"v":6.3e-5},{"s":"k","f":1.22,"v":2.1e-5},{"s":"k","f":1.29,"v":8.9e-5},{"s":"k","f":1.4,"v":1.1e-4},{"s":"k","f":1.51,"v":1.41e-4},{"s":"k","f":1.64,"v":1.9e-4},{"s":"k","f":1.77,"v":2.2e-4},{"s":"k","f":1.92,"v":2.6e-4},{"s":"k","f":2.08,"v":3.2e-4},{"s":"k","f":2.25,"v":3.8e-4},{"s":"k","f":2.44,"v":4.8e-4},{"s":"k","f":2.64,"v":5.6e-4},{"s":"k","f":2.86,"v":6.3e-4},{"s":"k","f":3.1,"v":6.0e-4},{"s":"k","f":3.35,"v":5.5e-4},{"s":"k","f":3.63,"v":4.7e-4},{"s":"k","f":3.93,"v":3.5e-4},{"s":"k","f":4.25,"v":3.0e-4},{"s":"k","f":4.61,"v":2.6e-4},{"s":"k","f":4.99,"v":2.3e-4},{"s":"k","f":5.4,"v":2.0e-4},{"s":"k","f":5.85,"v":1.6e-4},{"s":"k","f":6.33,"v":1.32e-4},{"s":"k","f":6.86,"v":1.15e-4},{"s":"k","f":7.42,"v":9.5e-5},{"s":"k","f":8.04,"v":7.1e-5},{"s":"k","f":8.7,"v":5.0e-5},{"s":"k","f":9.42,"v":3.5e-5},{"s":"k","f":10.2,"v":2.3e-5},{"s":"k","f":11,"v":1.6e-5},{"s":"k","f":11.9,"v":7.1e-6},{"s":"k","f":12.9,"v":3.8e-6},{"s":"k","f":14,"v":2.8e-6},{"s":"k","f":15.1,"v":2.6e-6},{"s":"k","f":16.4,"v":2.5e-6},{"s":"k","f":17.7,"v":2.4e-6},{"s":"k","f":19.2,"v":2.2e-6},{"s":"k","f":20.8,"v":1.9e-6},{"s":"k","f":22.5,"v":1.6e-6},{"s":"k","f":24.4,"v":1.26e-6},
      {"s":"b","f":0.74,"v":1.48e-4},{"s":"b","f":0.8,"v":1.2e-4},{"s":"b","f":0.87,"v":7.1e-5},{"s":"b","f":0.905,"v":1.45e-5},{"s":"b","f":0.94,"v":2.0e-4},{"s":"b","f":1.02,"v":2.4e-4},{"s":"b","f":1.1,"v":2.6e-4},{"s":"b","f":1.19,"v":2.8e-4},{"s":"b","f":1.22,"v":1.86e-5},{"s":"b","f":1.29,"v":4.0e-4},{"s":"b","f":1.4,"v":5.0e-4},{"s":"b","f":1.51,"v":6.3e-4},{"s":"b","f":1.64,"v":7.9e-4},{"s":"b","f":1.77,"v":1.0e-3},{"s":"b","f":1.92,"v":1.2e-3},{"s":"b","f":2.08,"v":1.5e-3},{"s":"b","f":2.25,"v":1.82e-3},{"s":"b","f":2.44,"v":2.5e-3},{"s":"b","f":2.64,"v":3.0e-3},{"s":"b","f":2.86,"v":3.4e-3},{"s":"b","f":3.1,"v":3.2e-3},{"s":"b","f":3.35,"v":2.8e-3},{"s":"b","f":3.63,"v":2.4e-3},{"s":"b","f":3.93,"v":2.2e-3},{"s":"b","f":4.25,"v":2.0e-3},{"s":"b","f":4.61,"v":1.78e-3},{"s":"b","f":4.99,"v":1.6e-3},{"s":"b","f":5.4,"v":1.38e-3},{"s":"b","f":5.85,"v":1.2e-3},{"s":"b","f":6.33,"v":1.05e-3},{"s":"b","f":6.86,"v":8.7e-4},{"s":"b","f":7.42,"v":7.1e-4},{"s":"b","f":8.04,"v":5.4e-4},{"s":"b","f":8.7,"v":3.8e-4},{"s":"b","f":9.42,"v":2.5e-4},{"s":"b","f":10.2,"v":1.5e-4},{"s":"b","f":11,"v":8.9e-5},{"s":"b","f":11.9,"v":5.0e-5},{"s":"b","f":12.9,"v":4.0e-5},{"s":"b","f":14,"v":3.5e-5},{"s":"b","f":15.1,"v":3.2e-5},{"s":"b","f":16.4,"v":2.9e-5},{"s":"b","f":17.7,"v":2.6e-5},{"s":"b","f":19.2,"v":2.4e-5},{"s":"b","f":20.8,"v":2.0e-5},{"s":"b","f":22.5,"v":1.66e-5},{"s":"b","f":24.4,"v":1.26e-5},
      {"s":"q","f":0.74,"v":1.12e-4},{"s":"q","f":0.8,"v":1.0e-4},{"s":"q","f":0.87,"v":4.5e-5},{"s":"q","f":0.905,"v":2.0e-5},{"s":"q","f":0.94,"v":1.26e-4},{"s":"q","f":1.02,"v":1.2e-4},{"s":"q","f":1.1,"v":1.26e-4},{"s":"q","f":1.19,"v":1.32e-4},{"s":"q","f":1.22,"v":2.8e-5},{"s":"q","f":1.29,"v":5.2e-4},{"s":"q","f":1.4,"v":6.6e-4},{"s":"q","f":1.51,"v":8.7e-4},{"s":"q","f":1.64,"v":1.12e-3},{"s":"q","f":1.77,"v":1.38e-3},{"s":"q","f":1.92,"v":1.66e-3},{"s":"q","f":2.08,"v":2.0e-3},{"s":"q","f":2.25,"v":2.5e-3},{"s":"q","f":2.44,"v":3.5e-3},{"s":"q","f":2.64,"v":4.2e-3},{"s":"q","f":2.86,"v":4.7e-3},{"s":"q","f":3.1,"v":4.3e-3},{"s":"q","f":3.35,"v":3.8e-3},{"s":"q","f":3.63,"v":3.3e-3},{"s":"q","f":3.93,"v":3.0e-3},{"s":"q","f":4.25,"v":2.75e-3},{"s":"q","f":4.61,"v":2.5e-3},{"s":"q","f":4.99,"v":2.3e-3},{"s":"q","f":5.4,"v":2.0e-3},{"s":"q","f":5.85,"v":1.74e-3},{"s":"q","f":6.33,"v":1.48e-3},{"s":"q","f":6.86,"v":1.23e-3},{"s":"q","f":7.42,"v":1.0e-3},{"s":"q","f":8.04,"v":7.6e-4},{"s":"q","f":8.7,"v":5.5e-4},{"s":"q","f":9.42,"v":3.6e-4},{"s":"q","f":10.2,"v":2.2e-4},{"s":"q","f":11,"v":1.26e-4},{"s":"q","f":11.9,"v":7.6e-5},{"s":"q","f":12.9,"v":5.75e-5},{"s":"q","f":14,"v":5.0e-5},{"s":"q","f":15.1,"v":4.6e-5},{"s":"q","f":16.4,"v":4.2e-5},{"s":"q","f":17.7,"v":3.8e-5},{"s":"q","f":19.2,"v":3.3e-5},{"s":"q","f":20.8,"v":2.9e-5},{"s":"q","f":22.5,"v":2.4e-5},{"s":"q","f":24.4,"v":2.0e-5},
      {"s":"r","f":0.74,"v":1.0e-4},{"s":"r","f":0.8,"v":8.9e-5},{"s":"r","f":0.87,"v":4.0e-5},{"s":"r","f":0.905,"v":1.66e-5},{"s":"r","f":0.94,"v":1.12e-4},{"s":"r","f":1.02,"v":1.05e-4},{"s":"r","f":1.1,"v":1.12e-4},{"s":"r","f":1.19,"v":1.2e-4},{"s":"r","f":1.22,"v":2.5e-5},{"s":"r","f":1.29,"v":4.8e-4},{"s":"r","f":1.4,"v":6.0e-4},{"s":"r","f":1.51,"v":7.9e-4},{"s":"r","f":1.64,"v":1.05e-3},{"s":"r","f":1.77,"v":1.26e-3},{"s":"r","f":1.92,"v":1.55e-3},{"s":"r","f":2.08,"v":1.9e-3},{"s":"r","f":2.25,"v":2.3e-3},{"s":"r","f":2.44,"v":3.3e-3},{"s":"r","f":2.64,"v":4.0e-3},{"s":"r","f":2.86,"v":4.4e-3},{"s":"r","f":3.1,"v":4.0e-3},{"s":"r","f":3.35,"v":3.5e-3},{"s":"r","f":3.63,"v":3.0e-3},{"s":"r","f":3.93,"v":2.8e-3},{"s":"r","f":4.25,"v":2.5e-3},{"s":"r","f":4.61,"v":2.3e-3},{"s":"r","f":4.99,"v":2.1e-3},{"s":"r","f":5.4,"v":1.82e-3},{"s":"r","f":5.85,"v":1.6e-3},{"s":"r","f":6.33,"v":1.35e-3},{"s":"r","f":6.86,"v":1.12e-3},{"s":"r","f":7.42,"v":9.1e-4},{"s":"r","f":8.04,"v":6.9e-4},{"s":"r","f":8.7,"v":5.0e-4},{"s":"r","f":9.42,"v":3.3e-4},{"s":"r","f":10.2,"v":2.0e-4},{"s":"r","f":11,"v":1.15e-4},{"s":"r","f":11.9,"v":6.6e-5},{"s":"r","f":12.9,"v":5.0e-5},{"s":"r","f":14,"v":4.4e-5},{"s":"r","f":15.1,"v":4.0e-5},{"s":"r","f":16.4,"v":3.6e-5},{"s":"r","f":17.7,"v":3.3e-5},{"s":"r","f":19.2,"v":2.9e-5},{"s":"r","f":20.8,"v":2.5e-5},{"s":"r","f":22.5,"v":2.1e-5},{"s":"r","f":24.4,"v":1.78e-5}
    ]
  },
  "spacing": 6,
  "vconcat": [
    {
      "width": 638, "height": 18,
      "view": {"stroke": "#000000", "strokeWidth": 1.2},
      "data": {"values": [{"t": "dataDisplay v9r11p5 : started by virgorun on Nov 26 2007 08:40:58 UTC"}]},
      "mark": {"type": "text", "font": "Liberation Serif", "fontSize": 13.5, "fontWeight": "bold", "color": "#000000"},
      "encoding": {"text": {"field": "t"}}
    },
    {
      "spacing": 21,
      "hconcat": [
        {"spacing": 2, "vconcat": [
          {"width": 178, "height": 22, "view": {"stroke": null}, "data": {"name": "hdr"}, "mark": {"type": "text", "font": "Liberation Serif", "fontSize": 6, "fontWeight": "bold"}, "encoding": {"y": {"field": "i", "type": "ordinal", "axis": null, "scale": {"padding": 0.6}}, "text": {"field": "t"}, "color": {"field": "s", "type": "nominal", "legend": null, "scale": {"domain": ["k", "b", "q", "r"], "range": ["#000000", "#4a4af0", "#e06666", "#ff1a1a"]}}}},
          {"width": 178, "height": 157, "data": {"name": "A"},
           "title": {"text": "V1:Pr_B1p_q1_ACpv__FFT", "frame": "group", "offset": -15, "fontSize": 11, "fontWeight": "normal", "font": "Liberation Sans"},
           "mark": {"type": "line", "strokeWidth": 1.5, "clip": true},
           "encoding": {
             "x": {"field": "f", "type": "quantitative", "scale": {"type": "log", "domain": [0.74, 24.5], "nice": false}, "axis": {"title": "Hz", "values": [0.8, 0.9, 1, 2, 3, 4, 5, 6, 7, 8, 9, 10, 20], "labelExpr": "datum.value == 1 ? '1' : datum.value == 10 ? '10' : ''", "labelFont": "Liberation Serif", "labelFontSize": 12, "labelPadding": 3, "titleFontSize": 6, "titleFontWeight": "bold", "titleAnchor": "end", "titleAlign": "right", "titleBaseline": "alphabetic", "titleX": 176, "titleY": 14}},
             "y": {"field": "v", "type": "quantitative", "scale": {"type": "log", "domain": [2.6e-6, 0.36], "nice": false}, "axis": {"title": "Watt/sqrt(Hz)", "values": [1e-5, 1e-4, 1e-3, 1e-2, 1e-1], "labelExpr": "'10' + replace(replace(replace(replace(replace(replace(replace(replace(toString(round(log(datum.value) / LN10)), '-', '⁻'), '1', '¹'), '2', '²'), '3', '³'), '4', '⁴'), '5', '⁵'), '6', '⁶'), '7', '⁷')", "labelFontSize": 11, "labelPadding": 4, "minExtent": 22, "maxExtent": 22, "titleFontSize": 9.5, "titleFontWeight": "bold", "titleAnchor": "end", "titlePadding": 2}},
             "color": {"field": "s", "type": "nominal", "legend": null, "scale": {"domain": ["k", "b", "q", "r"], "range": ["#000000", "#4a4af0", "#e06666", "#ff1a1a"]}}
           }},
          {"width": 178, "height": 19, "view": {"stroke": null}, "data": {"name": "ftr"}, "mark": {"type": "text", "font": "Liberation Serif", "fontSize": 6, "fontWeight": "bold"}, "encoding": {"y": {"field": "i", "type": "ordinal", "axis": null, "scale": {"padding": 0.45}}, "text": {"field": "t"}, "color": {"field": "s", "type": "nominal", "legend": null, "scale": {"domain": ["k", "b", "q", "r"], "range": ["#000000", "#4a4af0", "#e06666", "#ff1a1a"]}}}}
        ]},
        {"spacing": 2, "vconcat": [
          {"width": 178, "height": 22, "view": {"stroke": null}, "data": {"name": "hdr"}, "mark": {"type": "text", "font": "Liberation Serif", "fontSize": 6, "fontWeight": "bold"}, "encoding": {"y": {"field": "i", "type": "ordinal", "axis": null, "scale": {"padding": 0.6}}, "text": {"field": "t"}, "color": {"field": "s", "type": "nominal", "legend": null, "scale": {"domain": ["k", "b", "q", "r"], "range": ["#000000", "#4a4af0", "#e06666", "#ff1a1a"]}}}},
          {"width": 178, "height": 157, "data": {"name": "B"},
           "title": {"text": "V1:Sc_NI_txCorr__FFT", "frame": "group", "offset": -15, "fontSize": 11, "fontWeight": "normal", "font": "Liberation Sans"},
           "mark": {"type": "line", "strokeWidth": 1.5, "clip": true},
           "encoding": {
             "x": {"field": "f", "type": "quantitative", "scale": {"type": "log", "domain": [0.74, 24.5], "nice": false}, "axis": {"title": "Hz", "values": [0.8, 0.9, 1, 2, 3, 4, 5, 6, 7, 8, 9, 10, 20], "labelExpr": "datum.value == 1 ? '1' : datum.value == 10 ? '10' : ''", "labelFont": "Liberation Serif", "labelFontSize": 12, "labelPadding": 3, "titleFontSize": 6, "titleFontWeight": "bold", "titleAnchor": "end", "titleAlign": "right", "titleBaseline": "alphabetic", "titleX": 176, "titleY": 14}},
             "y": {"field": "v", "type": "quantitative", "scale": {"type": "log", "domain": [8.5e-8, 1.26e-2], "nice": false}, "axis": {"title": "volts/sqrt(Hz)", "values": [1e-7, 1e-6, 1e-5, 1e-4, 1e-3, 1e-2], "labelExpr": "'10' + replace(replace(replace(replace(replace(replace(replace(replace(toString(round(log(datum.value) / LN10)), '-', '⁻'), '1', '¹'), '2', '²'), '3', '³'), '4', '⁴'), '5', '⁵'), '6', '⁶'), '7', '⁷')", "labelFontSize": 11, "labelPadding": 4, "minExtent": 22, "maxExtent": 22, "titleFontSize": 9.5, "titleFontWeight": "bold", "titleAnchor": "end", "titlePadding": 2}},
             "color": {"field": "s", "type": "nominal", "legend": null, "scale": {"domain": ["k", "b", "q", "r"], "range": ["#000000", "#4a4af0", "#e06666", "#ff1a1a"]}}
           }},
          {"width": 178, "height": 19, "view": {"stroke": null}, "data": {"name": "ftr"}, "mark": {"type": "text", "font": "Liberation Serif", "fontSize": 6, "fontWeight": "bold"}, "encoding": {"y": {"field": "i", "type": "ordinal", "axis": null, "scale": {"padding": 0.45}}, "text": {"field": "t"}, "color": {"field": "s", "type": "nominal", "legend": null, "scale": {"domain": ["k", "b", "q", "r"], "range": ["#000000", "#4a4af0", "#e06666", "#ff1a1a"]}}}}
        ]},
        {"spacing": 2, "vconcat": [
          {"width": 178, "height": 22, "view": {"stroke": null}, "data": {"name": "hdr"}, "mark": {"type": "text", "font": "Liberation Serif", "fontSize": 6, "fontWeight": "bold"}, "encoding": {"y": {"field": "i", "type": "ordinal", "axis": null, "scale": {"padding": 0.6}}, "text": {"field": "t"}, "color": {"field": "s", "type": "nominal", "legend": null, "scale": {"domain": ["k", "b", "q", "r"], "range": ["#000000", "#4a4af0", "#e06666", "#ff1a1a"]}}}},
          {"width": 178, "height": 157, "data": {"name": "C"},
           "title": {"text": "V1:Sc_WI_txCorr__FFT", "frame": "group", "offset": -15, "fontSize": 11, "fontWeight": "normal", "font": "Liberation Sans"},
           "mark": {"type": "line", "strokeWidth": 1.5, "clip": true},
           "encoding": {
             "x": {"field": "f", "type": "quantitative", "scale": {"type": "log", "domain": [0.74, 24.5], "nice": false}, "axis": {"title": "Hz", "values": [0.8, 0.9, 1, 2, 3, 4, 5, 6, 7, 8, 9, 10, 20], "labelExpr": "datum.value == 1 ? '1' : datum.value == 10 ? '10' : ''", "labelFont": "Liberation Serif", "labelFontSize": 12, "labelPadding": 3, "titleFontSize": 6, "titleFontWeight": "bold", "titleAnchor": "end", "titleAlign": "right", "titleBaseline": "alphabetic", "titleX": 176, "titleY": 14}},
             "y": {"field": "v", "type": "quantitative", "scale": {"type": "log", "domain": [8.5e-8, 1.26e-2], "nice": false}, "axis": {"title": "volts/sqrt(Hz)", "values": [1e-7, 1e-6, 1e-5, 1e-4, 1e-3, 1e-2], "labelExpr": "'10' + replace(replace(replace(replace(replace(replace(replace(replace(toString(round(log(datum.value) / LN10)), '-', '⁻'), '1', '¹'), '2', '²'), '3', '³'), '4', '⁴'), '5', '⁵'), '6', '⁶'), '7', '⁷')", "labelFontSize": 11, "labelPadding": 4, "minExtent": 22, "maxExtent": 22, "titleFontSize": 9.5, "titleFontWeight": "bold", "titleAnchor": "end", "titlePadding": 2}},
             "color": {"field": "s", "type": "nominal", "legend": null, "scale": {"domain": ["k", "b", "q", "r"], "range": ["#000000", "#4a4af0", "#e06666", "#ff1a1a"]}}
           }},
          {"width": 178, "height": 19, "view": {"stroke": null}, "data": {"name": "ftr"}, "mark": {"type": "text", "font": "Liberation Serif", "fontSize": 6, "fontWeight": "bold"}, "encoding": {"y": {"field": "i", "type": "ordinal", "axis": null, "scale": {"padding": 0.45}}, "text": {"field": "t"}, "color": {"field": "s", "type": "nominal", "legend": null, "scale": {"domain": ["k", "b", "q", "r"], "range": ["#000000", "#4a4af0", "#e06666", "#ff1a1a"]}}}}
        ]}
      ]
    },
    {
      "spacing": 21,
      "hconcat": [
        {"spacing": 2, "vconcat": [
          {"width": 178, "height": 22, "view": {"stroke": null}, "data": {"name": "hdr"}, "mark": {"type": "text", "font": "Liberation Serif", "fontSize": 6, "fontWeight": "bold"}, "encoding": {"y": {"field": "i", "type": "ordinal", "axis": null, "scale": {"padding": 0.6}}, "text": {"field": "t"}, "color": {"field": "s", "type": "nominal", "legend": null, "scale": {"domain": ["k", "b", "q", "r"], "range": ["#000000", "#4a4af0", "#e06666", "#ff1a1a"]}}}},
          {"width": 178, "height": 157, "data": {"name": "D"},
           "title": {"text": "V1:Pr_B1p_q1_ACph__FFT", "frame": "group", "offset": -15, "fontSize": 11, "fontWeight": "normal", "font": "Liberation Sans"},
           "mark": {"type": "line", "strokeWidth": 1.5, "clip": true},
           "encoding": {
             "x": {"field": "f", "type": "quantitative", "scale": {"type": "log", "domain": [0.74, 24.5], "nice": false}, "axis": {"title": "Hz", "values": [0.8, 0.9, 1, 2, 3, 4, 5, 6, 7, 8, 9, 10, 20], "labelExpr": "datum.value == 1 ? '1' : datum.value == 10 ? '10' : ''", "labelFont": "Liberation Serif", "labelFontSize": 12, "labelPadding": 3, "titleFontSize": 6, "titleFontWeight": "bold", "titleAnchor": "end", "titleAlign": "right", "titleBaseline": "alphabetic", "titleX": 176, "titleY": 14}},
             "y": {"field": "v", "type": "quantitative", "scale": {"type": "log", "domain": [2.5e-6, 0.32], "nice": false}, "axis": {"title": "Watt/sqrt(Hz)", "values": [1e-5, 1e-4, 1e-3, 1e-2, 1e-1], "labelExpr": "'10' + replace(replace(replace(replace(replace(replace(replace(replace(toString(round(log(datum.value) / LN10)), '-', '⁻'), '1', '¹'), '2', '²'), '3', '³'), '4', '⁴'), '5', '⁵'), '6', '⁶'), '7', '⁷')", "labelFontSize": 11, "labelPadding": 4, "minExtent": 22, "maxExtent": 22, "titleFontSize": 9.5, "titleFontWeight": "bold", "titleAnchor": "end", "titlePadding": 2}},
             "color": {"field": "s", "type": "nominal", "legend": null, "scale": {"domain": ["k", "b", "q", "r"], "range": ["#000000", "#4a4af0", "#e06666", "#ff1a1a"]}}
           }},
          {"width": 178, "height": 19, "view": {"stroke": null}, "data": {"name": "ftr"}, "mark": {"type": "text", "font": "Liberation Serif", "fontSize": 6, "fontWeight": "bold"}, "encoding": {"y": {"field": "i", "type": "ordinal", "axis": null, "scale": {"padding": 0.45}}, "text": {"field": "t"}, "color": {"field": "s", "type": "nominal", "legend": null, "scale": {"domain": ["k", "b", "q", "r"], "range": ["#000000", "#4a4af0", "#e06666", "#ff1a1a"]}}}}
        ]},
        {"spacing": 2, "vconcat": [
          {"width": 178, "height": 22, "view": {"stroke": null}, "data": {"name": "hdr"}, "mark": {"type": "text", "font": "Liberation Serif", "fontSize": 6, "fontWeight": "bold"}, "encoding": {"y": {"field": "i", "type": "ordinal", "axis": null, "scale": {"padding": 0.6}}, "text": {"field": "t"}, "color": {"field": "s", "type": "nominal", "legend": null, "scale": {"domain": ["k", "b", "q", "r"], "range": ["#000000", "#4a4af0", "#e06666", "#ff1a1a"]}}}},
          {"width": 178, "height": 157, "data": {"name": "E"},
           "title": {"text": "V1:Sc_NI_tyCorr__FFT", "frame": "group", "offset": -15, "fontSize": 11, "fontWeight": "normal", "font": "Liberation Sans"},
           "mark": {"type": "line", "strokeWidth": 1.5, "clip": true},
           "encoding": {
             "x": {"field": "f", "type": "quantitative", "scale": {"type": "log", "domain": [0.74, 24.5], "nice": false}, "axis": {"title": "Hz", "values": [0.8, 0.9, 1, 2, 3, 4, 5, 6, 7, 8, 9, 10, 20], "labelExpr": "datum.value == 1 ? '1' : datum.value == 10 ? '10' : ''", "labelFont": "Liberation Serif", "labelFontSize": 12, "labelPadding": 3, "titleFontSize": 6, "titleFontWeight": "bold", "titleAnchor": "end", "titleAlign": "right", "titleBaseline": "alphabetic", "titleX": 176, "titleY": 14}},
             "y": {"field": "v", "type": "quantitative", "scale": {"type": "log", "domain": [8.5e-8, 1.26e-2], "nice": false}, "axis": {"title": "volts/sqrt(Hz)", "values": [1e-7, 1e-6, 1e-5, 1e-4, 1e-3, 1e-2], "labelExpr": "'10' + replace(replace(replace(replace(replace(replace(replace(replace(toString(round(log(datum.value) / LN10)), '-', '⁻'), '1', '¹'), '2', '²'), '3', '³'), '4', '⁴'), '5', '⁵'), '6', '⁶'), '7', '⁷')", "labelFontSize": 11, "labelPadding": 4, "minExtent": 22, "maxExtent": 22, "titleFontSize": 9.5, "titleFontWeight": "bold", "titleAnchor": "end", "titlePadding": 2}},
             "color": {"field": "s", "type": "nominal", "legend": null, "scale": {"domain": ["k", "b", "q", "r"], "range": ["#000000", "#4a4af0", "#e06666", "#ff1a1a"]}}
           }},
          {"width": 178, "height": 19, "view": {"stroke": null}, "data": {"name": "ftr"}, "mark": {"type": "text", "font": "Liberation Serif", "fontSize": 6, "fontWeight": "bold"}, "encoding": {"y": {"field": "i", "type": "ordinal", "axis": null, "scale": {"padding": 0.45}}, "text": {"field": "t"}, "color": {"field": "s", "type": "nominal", "legend": null, "scale": {"domain": ["k", "b", "q", "r"], "range": ["#000000", "#4a4af0", "#e06666", "#ff1a1a"]}}}}
        ]},
        {"spacing": 2, "vconcat": [
          {"width": 178, "height": 22, "view": {"stroke": null}, "data": {"name": "hdr"}, "mark": {"type": "text", "font": "Liberation Serif", "fontSize": 6, "fontWeight": "bold"}, "encoding": {"y": {"field": "i", "type": "ordinal", "axis": null, "scale": {"padding": 0.6}}, "text": {"field": "t"}, "color": {"field": "s", "type": "nominal", "legend": null, "scale": {"domain": ["k", "b", "q", "r"], "range": ["#000000", "#4a4af0", "#e06666", "#ff1a1a"]}}}},
          {"width": 178, "height": 157, "data": {"name": "F"},
           "title": {"text": "V1:Sc_WI_tyCorr__FFT", "frame": "group", "offset": -15, "fontSize": 11, "fontWeight": "normal", "font": "Liberation Sans"},
           "mark": {"type": "line", "strokeWidth": 1.5, "clip": true},
           "encoding": {
             "x": {"field": "f", "type": "quantitative", "scale": {"type": "log", "domain": [0.74, 24.5], "nice": false}, "axis": {"title": "Hz", "values": [0.8, 0.9, 1, 2, 3, 4, 5, 6, 7, 8, 9, 10, 20], "labelExpr": "datum.value == 1 ? '1' : datum.value == 10 ? '10' : ''", "labelFont": "Liberation Serif", "labelFontSize": 12, "labelPadding": 3, "titleFontSize": 6, "titleFontWeight": "bold", "titleAnchor": "end", "titleAlign": "right", "titleBaseline": "alphabetic", "titleX": 176, "titleY": 14}},
             "y": {"field": "v", "type": "quantitative", "scale": {"type": "log", "domain": [8.5e-8, 1.26e-2], "nice": false}, "axis": {"title": "volts/sqrt(Hz)", "values": [1e-7, 1e-6, 1e-5, 1e-4, 1e-3, 1e-2], "labelExpr": "'10' + replace(replace(replace(replace(replace(replace(replace(replace(toString(round(log(datum.value) / LN10)), '-', '⁻'), '1', '¹'), '2', '²'), '3', '³'), '4', '⁴'), '5', '⁵'), '6', '⁶'), '7', '⁷')", "labelFontSize": 11, "labelPadding": 4, "minExtent": 22, "maxExtent": 22, "titleFontSize": 9.5, "titleFontWeight": "bold", "titleAnchor": "end", "titlePadding": 2}},
             "color": {"field": "s", "type": "nominal", "legend": null, "scale": {"domain": ["k", "b", "q", "r"], "range": ["#000000", "#4a4af0", "#e06666", "#ff1a1a"]}}
           }},
          {"width": 178, "height": 19, "view": {"stroke": null}, "data": {"name": "ftr"}, "mark": {"type": "text", "font": "Liberation Serif", "fontSize": 6, "fontWeight": "bold"}, "encoding": {"y": {"field": "i", "type": "ordinal", "axis": null, "scale": {"padding": 0.45}}, "text": {"field": "t"}, "color": {"field": "s", "type": "nominal", "legend": null, "scale": {"domain": ["k", "b", "q", "r"], "range": ["#000000", "#4a4af0", "#e06666", "#ff1a1a"]}}}}
        ]}
      ]
    }
  ]
}
